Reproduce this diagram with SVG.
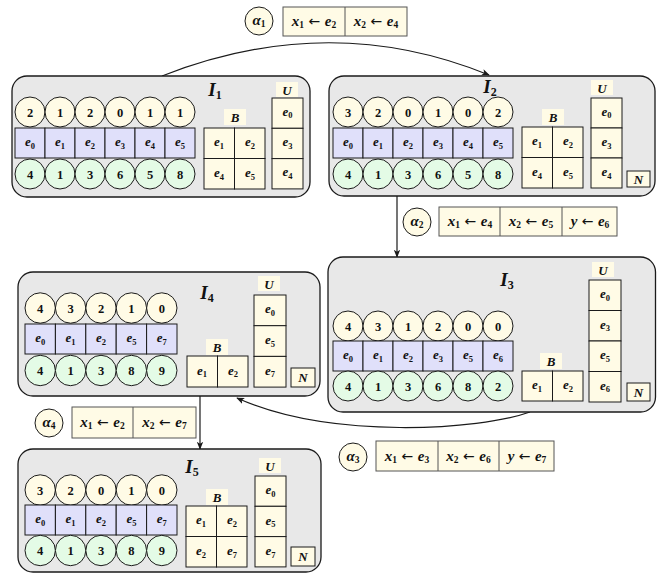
<svg xmlns="http://www.w3.org/2000/svg" width="657" height="575" viewBox="0 0 657 575">
<style>
.box{fill:#e8e8e8;stroke:#1a1a1a;stroke-width:1.3}
.cy{fill:#fffbe6;stroke:#1a1a1a;stroke-width:1}
.cg{fill:#e4fbe6;stroke:#1a1a1a;stroke-width:1}
.rb{fill:#e0e0fa;stroke:#1a1a1a;stroke-width:1}
.rc{fill:#fffbe6;stroke:#1a1a1a;stroke-width:1}
.lb{fill:#fffbe6;stroke:none}
.ac{fill:#fffbe6;stroke:#1a1a1a;stroke-width:1}
.ab{fill:#fffbe6;stroke:#555;stroke-width:1}
text{font-family:"Liberation Serif","DejaVu Serif",serif;fill:#111;text-anchor:middle}
.n{font-size:12.5px;font-weight:bold}
.e{font-size:13px;font-weight:bold;font-style:italic}
.s{font-size:8.5px;font-weight:bold;font-style:normal}
.sa{font-size:9.5px;font-weight:bold;font-style:normal}
.L{font-size:13px;font-weight:bold;font-style:italic}
.I{font-size:19px;font-weight:bold;font-style:italic}
.Is{font-size:12px;font-weight:bold;font-style:normal}
.a{font-size:15px;font-weight:bold;font-style:italic}
.ar{font-family:"DejaVu Sans",sans-serif;font-size:14px;font-weight:normal;font-style:normal}
.con{fill:none;stroke:#1a1a1a;stroke-width:1.2}
</style>
<defs>
<marker id="ah" viewBox="0 0 10 10" refX="9" refY="5" markerWidth="8" markerHeight="8" markerUnits="userSpaceOnUse" orient="auto">
<path d="M0,1 L10,5 L0,9 L2.5,5 Z" fill="#1a1a1a"/>
</marker>
</defs>

<g id="connectors">
<path class="con" d="M162,76 Q330,10 489,75" marker-end="url(#ah)"/>
<path class="con" d="M397,196 L397,257" marker-end="url(#ah)"/>
<path class="con" d="M530,412 C480,430 330,440 237,398" marker-end="url(#ah)"/>
<path class="con" d="M200,396 L200,449" marker-end="url(#ah)"/>
</g>

<g id="alpha1">
<circle class="ac" cx="259" cy="21" r="14"/>
<text class="a" x="259" y="25">α<tspan class="sa" dy="2">1</tspan></text>
<rect class="ab" x="283" y="7" width="124" height="29"/>
<line x1="345" y1="7" x2="345" y2="36" stroke="#555"/>
<text class="a" x="314" y="25.5">x<tspan class="sa" dy="2">1</tspan><tspan class="ar" dy="-2"> ← </tspan>e<tspan class="sa" dy="2">2</tspan></text>
<text class="a" x="376" y="25.5">x<tspan class="sa" dy="2">2</tspan><tspan class="ar" dy="-2"> ← </tspan>e<tspan class="sa" dy="2">4</tspan></text>
</g>

<g id="alpha2">
<circle class="ac" cx="417" cy="222" r="14"/>
<text class="a" x="417" y="226">α<tspan class="sa" dy="2">2</tspan></text>
<rect class="ab" x="439" y="207" width="178" height="29"/>
<line x1="500" y1="207" x2="500" y2="236" stroke="#555"/>
<line x1="562" y1="207" x2="562" y2="236" stroke="#555"/>
<text class="a" x="470" y="225.5">x<tspan class="sa" dy="2">1</tspan><tspan class="ar" dy="-2"> ← </tspan>e<tspan class="sa" dy="2">4</tspan></text>
<text class="a" x="531" y="225.5">x<tspan class="sa" dy="2">2</tspan><tspan class="ar" dy="-2"> ← </tspan>e<tspan class="sa" dy="2">5</tspan></text>
<text class="a" x="590" y="225.5">y<tspan class="ar"> ← </tspan>e<tspan class="sa" dy="2">6</tspan></text>
</g>

<g id="alpha3">
<circle class="ac" cx="353" cy="457" r="14"/>
<text class="a" x="353" y="461">α<tspan class="sa" dy="2">3</tspan></text>
<rect class="ab" x="376" y="441" width="178" height="30"/>
<line x1="438" y1="441" x2="438" y2="471" stroke="#555"/>
<line x1="499" y1="441" x2="499" y2="471" stroke="#555"/>
<text class="a" x="407" y="460.5">x<tspan class="sa" dy="2">1</tspan><tspan class="ar" dy="-2"> ← </tspan>e<tspan class="sa" dy="2">3</tspan></text>
<text class="a" x="468.5" y="460.5">x<tspan class="sa" dy="2">2</tspan><tspan class="ar" dy="-2"> ← </tspan>e<tspan class="sa" dy="2">6</tspan></text>
<text class="a" x="527" y="460.5">y<tspan class="ar"> ← </tspan>e<tspan class="sa" dy="2">7</tspan></text>
</g>

<g id="alpha4">
<circle class="ac" cx="49" cy="423" r="14"/>
<text class="a" x="49" y="427">α<tspan class="sa" dy="2">4</tspan></text>
<rect class="ab" x="72" y="407" width="124" height="31"/>
<line x1="133" y1="407" x2="133" y2="438" stroke="#555"/>
<text class="a" x="102.5" y="427">x<tspan class="sa" dy="2">1</tspan><tspan class="ar" dy="-2"> ← </tspan>e<tspan class="sa" dy="2">2</tspan></text>
<text class="a" x="164.5" y="427">x<tspan class="sa" dy="2">2</tspan><tspan class="ar" dy="-2"> ← </tspan>e<tspan class="sa" dy="2">7</tspan></text>
</g>

<!-- I1 -->
<g id="I1">
<rect class="box" x="12" y="76" width="298" height="121" rx="15"/>
<text class="I" x="215" y="96">I<tspan class="Is" dy="3">1</tspan></text>
<circle class="cy" cx="30" cy="112" r="15"/><circle class="cy" cx="60" cy="112" r="15"/><circle class="cy" cx="90" cy="112" r="15"/><circle class="cy" cx="120" cy="112" r="15"/><circle class="cy" cx="150" cy="112" r="15"/><circle class="cy" cx="180" cy="112" r="15"/>
<text class="n" x="30" y="116.5">2</text><text class="n" x="60" y="116.5">1</text><text class="n" x="90" y="116.5">2</text><text class="n" x="120" y="116.5">0</text><text class="n" x="150" y="116.5">1</text><text class="n" x="180" y="116.5">1</text>
<rect class="rb" x="15" y="128" width="30" height="30"/><rect class="rb" x="45" y="128" width="30" height="30"/><rect class="rb" x="75" y="128" width="30" height="30"/><rect class="rb" x="105" y="128" width="30" height="30"/><rect class="rb" x="135" y="128" width="30" height="30"/><rect class="rb" x="165" y="128" width="30" height="30"/>
<text class="e" x="30" y="146">e<tspan class="s" dy="2.5">0</tspan></text><text class="e" x="60" y="146">e<tspan class="s" dy="2.5">1</tspan></text><text class="e" x="90" y="146">e<tspan class="s" dy="2.5">2</tspan></text><text class="e" x="120" y="146">e<tspan class="s" dy="2.5">3</tspan></text><text class="e" x="150" y="146">e<tspan class="s" dy="2.5">4</tspan></text><text class="e" x="180" y="146">e<tspan class="s" dy="2.5">5</tspan></text>
<circle class="cg" cx="30" cy="174" r="15"/><circle class="cg" cx="60" cy="174" r="15"/><circle class="cg" cx="90" cy="174" r="15"/><circle class="cg" cx="120" cy="174" r="15"/><circle class="cg" cx="150" cy="174" r="15"/><circle class="cg" cx="180" cy="174" r="15"/>
<text class="n" x="30" y="178.5">4</text><text class="n" x="60" y="178.5">1</text><text class="n" x="90" y="178.5">3</text><text class="n" x="120" y="178.5">6</text><text class="n" x="150" y="178.5">5</text><text class="n" x="180" y="178.5">8</text>
<rect class="lb" x="224" y="109" width="22" height="16"/><text class="L" x="235" y="121.5">B</text>
<rect class="rc" x="204" y="128" width="30.5" height="30.5"/><rect class="rc" x="234.5" y="128" width="30.5" height="30.5"/><rect class="rc" x="204" y="158.5" width="30.5" height="30.5"/><rect class="rc" x="234.5" y="158.5" width="30.5" height="30.5"/>
<text class="e" x="219" y="146">e<tspan class="s" dy="2.5">1</tspan></text><text class="e" x="250" y="146">e<tspan class="s" dy="2.5">2</tspan></text><text class="e" x="219" y="177">e<tspan class="s" dy="2.5">4</tspan></text><text class="e" x="250" y="177">e<tspan class="s" dy="2.5">5</tspan></text>
<rect class="lb" x="276" y="82" width="22" height="15"/><text class="L" x="287" y="94.5">U</text>
<rect class="rc" x="272" y="98" width="31" height="30.3"/><rect class="rc" x="272" y="128.3" width="31" height="30.3"/><rect class="rc" x="272" y="158.6" width="31" height="30.3"/>
<text class="e" x="287.5" y="115.5">e<tspan class="s" dy="2.5">0</tspan></text><text class="e" x="287.5" y="146">e<tspan class="s" dy="2.5">3</tspan></text><text class="e" x="287.5" y="176">e<tspan class="s" dy="2.5">4</tspan></text>
</g>

<!-- I2 -->
<g id="I2">
<rect class="box" x="329" y="76" width="326" height="120" rx="15"/>
<text class="I" x="490" y="93">I<tspan class="Is" dy="3">2</tspan></text>
<circle class="cy" cx="348" cy="112" r="15"/><circle class="cy" cx="378" cy="112" r="15"/><circle class="cy" cx="408" cy="112" r="15"/><circle class="cy" cx="438" cy="112" r="15"/><circle class="cy" cx="468" cy="112" r="15"/><circle class="cy" cx="498" cy="112" r="15"/>
<text class="n" x="348" y="116.5">3</text><text class="n" x="378" y="116.5">2</text><text class="n" x="408" y="116.5">0</text><text class="n" x="438" y="116.5">1</text><text class="n" x="468" y="116.5">0</text><text class="n" x="498" y="116.5">2</text>
<rect class="rb" x="333" y="128" width="30" height="30"/><rect class="rb" x="363" y="128" width="30" height="30"/><rect class="rb" x="393" y="128" width="30" height="30"/><rect class="rb" x="423" y="128" width="30" height="30"/><rect class="rb" x="453" y="128" width="30" height="30"/><rect class="rb" x="483" y="128" width="30" height="30"/>
<text class="e" x="348" y="146">e<tspan class="s" dy="2.5">0</tspan></text><text class="e" x="378" y="146">e<tspan class="s" dy="2.5">1</tspan></text><text class="e" x="408" y="146">e<tspan class="s" dy="2.5">2</tspan></text><text class="e" x="438" y="146">e<tspan class="s" dy="2.5">3</tspan></text><text class="e" x="468" y="146">e<tspan class="s" dy="2.5">4</tspan></text><text class="e" x="498" y="146">e<tspan class="s" dy="2.5">5</tspan></text>
<circle class="cg" cx="348" cy="174" r="15"/><circle class="cg" cx="378" cy="174" r="15"/><circle class="cg" cx="408" cy="174" r="15"/><circle class="cg" cx="438" cy="174" r="15"/><circle class="cg" cx="468" cy="174" r="15"/><circle class="cg" cx="498" cy="174" r="15"/>
<text class="n" x="348" y="178.5">4</text><text class="n" x="378" y="178.5">1</text><text class="n" x="408" y="178.5">3</text><text class="n" x="438" y="178.5">6</text><text class="n" x="468" y="178.5">5</text><text class="n" x="498" y="178.5">8</text>
<rect class="lb" x="542" y="109" width="22" height="16"/><text class="L" x="553" y="121.5">B</text>
<rect class="rc" x="522" y="127" width="30.5" height="30.5"/><rect class="rc" x="552.5" y="127" width="30.5" height="30.5"/><rect class="rc" x="522" y="157.5" width="30.5" height="30.5"/><rect class="rc" x="552.5" y="157.5" width="30.5" height="30.5"/>
<text class="e" x="537" y="145">e<tspan class="s" dy="2.5">1</tspan></text><text class="e" x="568" y="145">e<tspan class="s" dy="2.5">2</tspan></text><text class="e" x="537" y="176">e<tspan class="s" dy="2.5">4</tspan></text><text class="e" x="568" y="176">e<tspan class="s" dy="2.5">5</tspan></text>
<rect class="lb" x="591" y="80" width="22" height="15"/><text class="L" x="602" y="92.5">U</text>
<rect class="rc" x="591" y="98" width="31" height="30"/><rect class="rc" x="591" y="128" width="31" height="30"/><rect class="rc" x="591" y="158" width="31" height="30"/>
<text class="e" x="606.5" y="115.5">e<tspan class="s" dy="2.5">0</tspan></text><text class="e" x="606.5" y="146">e<tspan class="s" dy="2.5">3</tspan></text><text class="e" x="606.5" y="176">e<tspan class="s" dy="2.5">4</tspan></text>
<rect class="rc" x="627" y="171" width="23" height="16"/><text class="L" x="638.5" y="183.5">N</text>
</g>

<!-- I3 -->
<g id="I3">
<rect class="box" x="328" y="257" width="327.5" height="155" rx="15"/>
<text class="I" x="507" y="286">I<tspan class="Is" dy="3">3</tspan></text>
<circle class="cy" cx="348" cy="326" r="15"/><circle class="cy" cx="378" cy="326" r="15"/><circle class="cy" cx="408" cy="326" r="15"/><circle class="cy" cx="438" cy="326" r="15"/><circle class="cy" cx="468" cy="326" r="15"/><circle class="cy" cx="498" cy="326" r="15"/>
<text class="n" x="348" y="330.5">4</text><text class="n" x="378" y="330.5">3</text><text class="n" x="408" y="330.5">1</text><text class="n" x="438" y="330.5">2</text><text class="n" x="468" y="330.5">0</text><text class="n" x="498" y="330.5">0</text>
<rect class="rb" x="333" y="341" width="30" height="30"/><rect class="rb" x="363" y="341" width="30" height="30"/><rect class="rb" x="393" y="341" width="30" height="30"/><rect class="rb" x="423" y="341" width="30" height="30"/><rect class="rb" x="453" y="341" width="30" height="30"/><rect class="rb" x="483" y="341" width="30" height="30"/>
<text class="e" x="348" y="359">e<tspan class="s" dy="2.5">0</tspan></text><text class="e" x="378" y="359">e<tspan class="s" dy="2.5">1</tspan></text><text class="e" x="408" y="359">e<tspan class="s" dy="2.5">2</tspan></text><text class="e" x="438" y="359">e<tspan class="s" dy="2.5">3</tspan></text><text class="e" x="468" y="359">e<tspan class="s" dy="2.5">5</tspan></text><text class="e" x="498" y="359">e<tspan class="s" dy="2.5">6</tspan></text>
<circle class="cg" cx="348" cy="386" r="15"/><circle class="cg" cx="378" cy="386" r="15"/><circle class="cg" cx="408" cy="386" r="15"/><circle class="cg" cx="438" cy="386" r="15"/><circle class="cg" cx="468" cy="386" r="15"/><circle class="cg" cx="498" cy="386" r="15"/>
<text class="n" x="348" y="390.5">4</text><text class="n" x="378" y="390.5">1</text><text class="n" x="408" y="390.5">3</text><text class="n" x="438" y="390.5">6</text><text class="n" x="468" y="390.5">8</text><text class="n" x="498" y="390.5">2</text>
<rect class="lb" x="540" y="353" width="22" height="16"/><text class="L" x="551" y="365.5">B</text>
<rect class="rc" x="522" y="371" width="30.5" height="30"/><rect class="rc" x="552.5" y="371" width="30.5" height="30"/>
<text class="e" x="537" y="389">e<tspan class="s" dy="2.5">1</tspan></text><text class="e" x="568" y="389">e<tspan class="s" dy="2.5">2</tspan></text>
<rect class="lb" x="592" y="262" width="22" height="15"/><text class="L" x="603" y="274.5">U</text>
<rect class="rc" x="589" y="280" width="32" height="30.5"/><rect class="rc" x="589" y="310.5" width="32" height="30.5"/><rect class="rc" x="589" y="341" width="32" height="30.5"/><rect class="rc" x="589" y="371.5" width="32" height="30.5"/>
<text class="e" x="605" y="298">e<tspan class="s" dy="2.5">0</tspan></text><text class="e" x="605" y="328.5">e<tspan class="s" dy="2.5">3</tspan></text><text class="e" x="605" y="359">e<tspan class="s" dy="2.5">5</tspan></text><text class="e" x="605" y="389.5">e<tspan class="s" dy="2.5">6</tspan></text>
<rect class="rc" x="627" y="383" width="23" height="18"/><text class="L" x="638.5" y="396.5">N</text>
</g>

<!-- I4 -->
<g id="I4">
<rect class="box" x="18" y="272" width="302" height="124" rx="15"/>
<text class="I" x="207" y="299">I<tspan class="Is" dy="3">4</tspan></text>
<circle class="cy" cx="40.2" cy="308" r="15.2"/><circle class="cy" cx="70.6" cy="308" r="15.2"/><circle class="cy" cx="101" cy="308" r="15.2"/><circle class="cy" cx="131.4" cy="308" r="15.2"/><circle class="cy" cx="161.8" cy="308" r="15.2"/>
<text class="n" x="40.2" y="312.5">4</text><text class="n" x="70.6" y="312.5">3</text><text class="n" x="101" y="312.5">2</text><text class="n" x="131.4" y="312.5">1</text><text class="n" x="161.8" y="312.5">0</text>
<rect class="rb" x="25" y="324" width="30.4" height="30"/><rect class="rb" x="55.4" y="324" width="30.4" height="30"/><rect class="rb" x="85.8" y="324" width="30.4" height="30"/><rect class="rb" x="116.2" y="324" width="30.4" height="30"/><rect class="rb" x="146.6" y="324" width="30.4" height="30"/>
<text class="e" x="40.2" y="342">e<tspan class="s" dy="2.5">0</tspan></text><text class="e" x="70.6" y="342">e<tspan class="s" dy="2.5">1</tspan></text><text class="e" x="101" y="342">e<tspan class="s" dy="2.5">2</tspan></text><text class="e" x="131.4" y="342">e<tspan class="s" dy="2.5">5</tspan></text><text class="e" x="161.8" y="342">e<tspan class="s" dy="2.5">7</tspan></text>
<circle class="cg" cx="40.2" cy="370.5" r="15.2"/><circle class="cg" cx="70.6" cy="370.5" r="15.2"/><circle class="cg" cx="101" cy="370.5" r="15.2"/><circle class="cg" cx="131.4" cy="370.5" r="15.2"/><circle class="cg" cx="161.8" cy="370.5" r="15.2"/>
<text class="n" x="40.2" y="375">4</text><text class="n" x="70.6" y="375">1</text><text class="n" x="101" y="375">3</text><text class="n" x="131.4" y="375">8</text><text class="n" x="161.8" y="375">9</text>
<rect class="lb" x="206" y="339" width="22" height="16"/><text class="L" x="217" y="351.5">B</text>
<rect class="rc" x="187" y="356" width="30.5" height="31"/><rect class="rc" x="217.5" y="356" width="30.5" height="31"/>
<text class="e" x="202" y="374.5">e<tspan class="s" dy="2.5">1</tspan></text><text class="e" x="233" y="374.5">e<tspan class="s" dy="2.5">2</tspan></text>
<rect class="lb" x="258" y="276" width="22" height="15"/><text class="L" x="269" y="288.5">U</text>
<rect class="rc" x="254" y="295" width="32" height="30.7"/><rect class="rc" x="254" y="325.7" width="32" height="30.7"/><rect class="rc" x="254" y="356.4" width="32" height="30.7"/>
<text class="e" x="270" y="313">e<tspan class="s" dy="2.5">0</tspan></text><text class="e" x="270" y="344">e<tspan class="s" dy="2.5">5</tspan></text><text class="e" x="270" y="374.5">e<tspan class="s" dy="2.5">7</tspan></text>
<rect class="rc" x="291" y="368" width="24" height="19"/><text class="L" x="303" y="382">N</text>
</g>

<!-- I5 -->
<g id="I5">
<rect class="box" x="18" y="449" width="303" height="123" rx="15"/>
<text class="I" x="192" y="473">I<tspan class="Is" dy="3">5</tspan></text>
<circle class="cy" cx="40.2" cy="490" r="15.2"/><circle class="cy" cx="70.6" cy="490" r="15.2"/><circle class="cy" cx="101" cy="490" r="15.2"/><circle class="cy" cx="131.4" cy="490" r="15.2"/><circle class="cy" cx="161.8" cy="490" r="15.2"/>
<text class="n" x="40.2" y="494.5">3</text><text class="n" x="70.6" y="494.5">2</text><text class="n" x="101" y="494.5">0</text><text class="n" x="131.4" y="494.5">1</text><text class="n" x="161.8" y="494.5">0</text>
<rect class="rb" x="25" y="505" width="30.4" height="30"/><rect class="rb" x="55.4" y="505" width="30.4" height="30"/><rect class="rb" x="85.8" y="505" width="30.4" height="30"/><rect class="rb" x="116.2" y="505" width="30.4" height="30"/><rect class="rb" x="146.6" y="505" width="30.4" height="30"/>
<text class="e" x="40.2" y="523">e<tspan class="s" dy="2.5">0</tspan></text><text class="e" x="70.6" y="523">e<tspan class="s" dy="2.5">1</tspan></text><text class="e" x="101" y="523">e<tspan class="s" dy="2.5">2</tspan></text><text class="e" x="131.4" y="523">e<tspan class="s" dy="2.5">5</tspan></text><text class="e" x="161.8" y="523">e<tspan class="s" dy="2.5">7</tspan></text>
<circle class="cg" cx="40.2" cy="550.5" r="15.2"/><circle class="cg" cx="70.6" cy="550.5" r="15.2"/><circle class="cg" cx="101" cy="550.5" r="15.2"/><circle class="cg" cx="131.4" cy="550.5" r="15.2"/><circle class="cg" cx="161.8" cy="550.5" r="15.2"/>
<text class="n" x="40.2" y="555">4</text><text class="n" x="70.6" y="555">1</text><text class="n" x="101" y="555">3</text><text class="n" x="131.4" y="555">8</text><text class="n" x="161.8" y="555">9</text>
<rect class="lb" x="206" y="489" width="22" height="16"/><text class="L" x="217" y="501.5">B</text>
<rect class="rc" x="186" y="506" width="30.5" height="30.5"/><rect class="rc" x="216.5" y="506" width="30.5" height="30.5"/><rect class="rc" x="186" y="536.5" width="30.5" height="30.5"/><rect class="rc" x="216.5" y="536.5" width="30.5" height="30.5"/>
<text class="e" x="201" y="524">e<tspan class="s" dy="2.5">1</tspan></text><text class="e" x="232" y="524">e<tspan class="s" dy="2.5">2</tspan></text><text class="e" x="201" y="555">e<tspan class="s" dy="2.5">2</tspan></text><text class="e" x="232" y="555">e<tspan class="s" dy="2.5">7</tspan></text>
<rect class="lb" x="259" y="458" width="22" height="15"/><text class="L" x="270" y="470.5">U</text>
<rect class="rc" x="255" y="476" width="31" height="30.3"/><rect class="rc" x="255" y="506.3" width="31" height="30.3"/><rect class="rc" x="255" y="536.6" width="31" height="30.3"/>
<text class="e" x="270.5" y="494">e<tspan class="s" dy="2.5">0</tspan></text><text class="e" x="270.5" y="524.5">e<tspan class="s" dy="2.5">5</tspan></text><text class="e" x="270.5" y="555">e<tspan class="s" dy="2.5">7</tspan></text>
<rect class="rc" x="291" y="547" width="24" height="19"/><text class="L" x="303" y="561">N</text>
</g>
</svg>
